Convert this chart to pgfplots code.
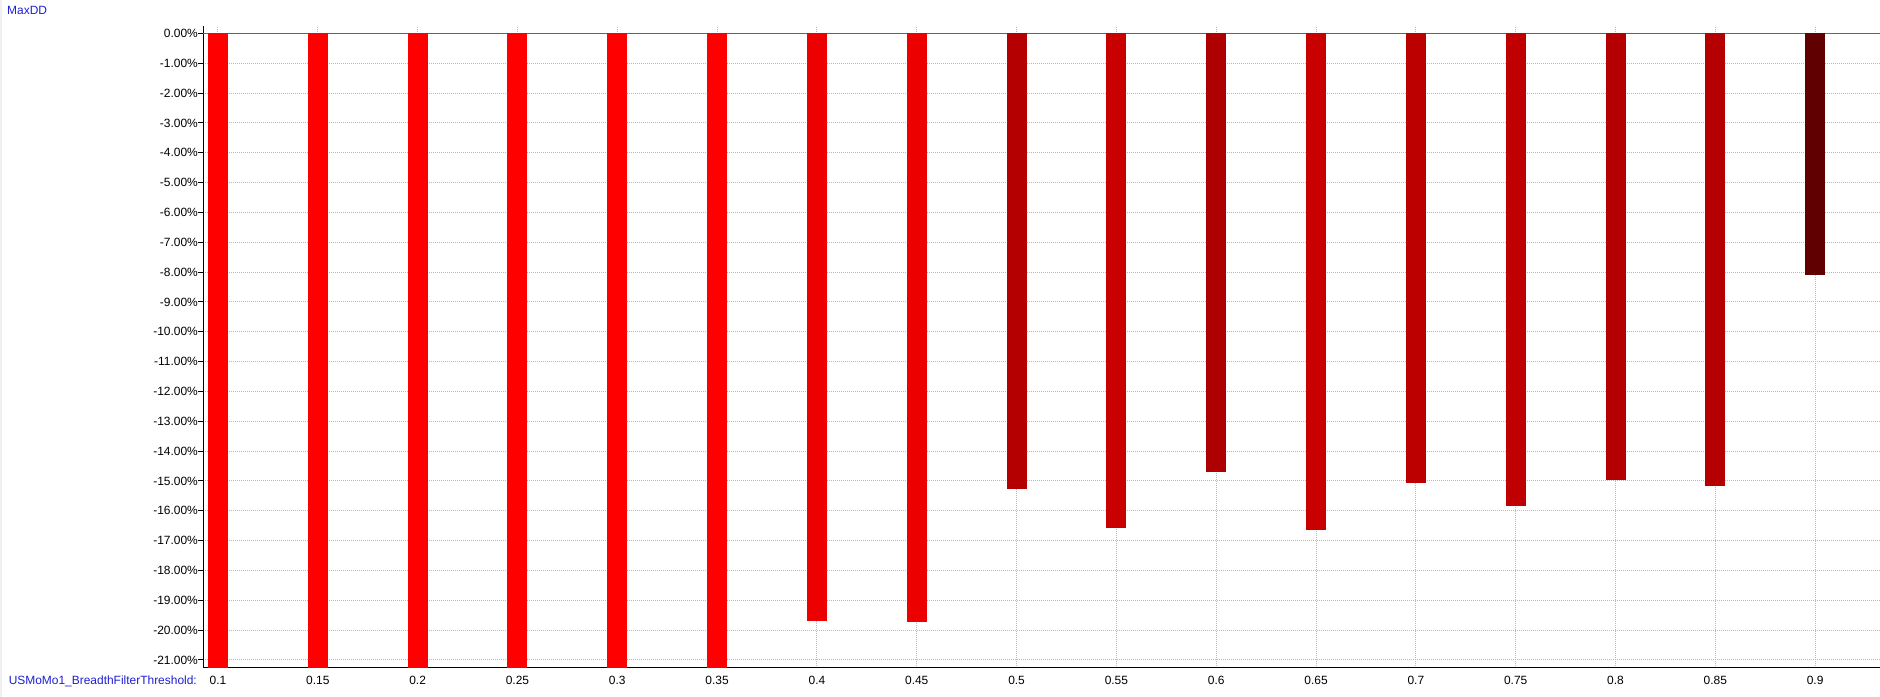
\documentclass[border=0pt]{standalone}
\usepackage{pgfplots}
\pgfplotsset{compat=1.18}
\usepackage{fontspec}
\setmainfont{Liberation Sans}
\definecolor{ttl}{RGB}{30,30,215}
\definecolor{gridc}{RGB}{185,185,185}
\definecolor{zeroc}{RGB}{100,100,100}
\definecolor{cA}{HTML}{FF0000}
\definecolor{cB}{HTML}{EC0000}
\definecolor{cC}{HTML}{B40000}
\definecolor{cD}{HTML}{C80000}
\definecolor{cE}{HTML}{AE0000}
\definecolor{cF}{HTML}{BC0000}
\definecolor{cG}{HTML}{C00000}
\definecolor{cH}{HTML}{600000}
\begin{document}
\begin{tikzpicture}[x=1bp,y=1bp]
\path[use as bounding box] (0,0) rectangle (1880,697);
\fill[gray!12] (0,0) rectangle (2,697);
\node[anchor=base west, text=ttl, inner sep=0pt, font=\fontsize{12}{14}\selectfont] at (7,682) {MaxDD};
\node[anchor=base east, text=ttl, inner sep=0pt, font=\fontsize{12}{14}\selectfont] at (197,12) {USMoMo1\_BreadthFilterThreshold:};
\begin{axis}[
  at={(203bp,29bp)}, anchor=south west,
  scale only axis, width=1677bp, height=642bp,
  xmin=-0.15, xmax=16.65, ymin=-21.27, ymax=0.25,
  axis x line*=bottom, axis y line*=left,
  axis line style={black, line width=1bp},
  xtick={0,...,16},
  xticklabels={0.1,0.15,0.2,0.25,0.3,0.35,0.4,0.45,0.5,0.55,0.6,0.65,0.7,0.75,0.8,0.85,0.9},
  ytick={-21,-20,...,0},
  yticklabel={\pgfmathprintnumber[fixed,fixed zerofill,precision=2]{\tick}\%},
  /pgf/number format/assume math mode=true,
  ticklabel style={font=\fontsize{12}{14}\selectfont, inner sep=0pt},
  xtick align=inside, ytick align=outside,
  major tick length=5bp,
  xtick style={draw=none},
  ytick style={black, line width=1bp},
  xticklabel style={anchor=north, yshift=-8bp},
  yticklabel style={anchor=east, xshift=0bp},
  grid=major,
  major grid style={color=gridc, line width=1bp, dash pattern=on 1bp off 1bp},
  clip=false,
]
\draw[zeroc, line width=1bp] (axis cs:-0.15,0) -- (axis cs:16.65,0);
\addplot[ybar, bar shift=0pt, bar width=20bp, fill=cA, draw=none] coordinates {(0,-21.27)};
\addplot[ybar, bar shift=0pt, bar width=20bp, fill=cA, draw=none] coordinates {(1,-21.27)};
\addplot[ybar, bar shift=0pt, bar width=20bp, fill=cA, draw=none] coordinates {(2,-21.27)};
\addplot[ybar, bar shift=0pt, bar width=20bp, fill=cA, draw=none] coordinates {(3,-21.27)};
\addplot[ybar, bar shift=0pt, bar width=20bp, fill=cA, draw=none] coordinates {(4,-21.27)};
\addplot[ybar, bar shift=0pt, bar width=20bp, fill=cA, draw=none] coordinates {(5,-21.27)};
\addplot[ybar, bar shift=0pt, bar width=20bp, fill=cB, draw=none] coordinates {(6,-19.69)};
\addplot[ybar, bar shift=0pt, bar width=20bp, fill=cB, draw=none] coordinates {(7,-19.72)};
\addplot[ybar, bar shift=0pt, bar width=20bp, fill=cC, draw=none] coordinates {(8,-15.27)};
\addplot[ybar, bar shift=0pt, bar width=20bp, fill=cD, draw=none] coordinates {(9,-16.58)};
\addplot[ybar, bar shift=0pt, bar width=20bp, fill=cE, draw=none] coordinates {(10,-14.70)};
\addplot[ybar, bar shift=0pt, bar width=20bp, fill=cD, draw=none] coordinates {(11,-16.64)};
\addplot[ybar, bar shift=0pt, bar width=20bp, fill=cF, draw=none] coordinates {(12,-15.07)};
\addplot[ybar, bar shift=0pt, bar width=20bp, fill=cG, draw=none] coordinates {(13,-15.84)};
\addplot[ybar, bar shift=0pt, bar width=20bp, fill=cC, draw=none] coordinates {(14,-14.97)};
\addplot[ybar, bar shift=0pt, bar width=20bp, fill=cC, draw=none] coordinates {(15,-15.17)};
\addplot[ybar, bar shift=0pt, bar width=20bp, fill=cH, draw=none] coordinates {(16,-8.10)};
\end{axis}
\end{tikzpicture}
\end{document}
